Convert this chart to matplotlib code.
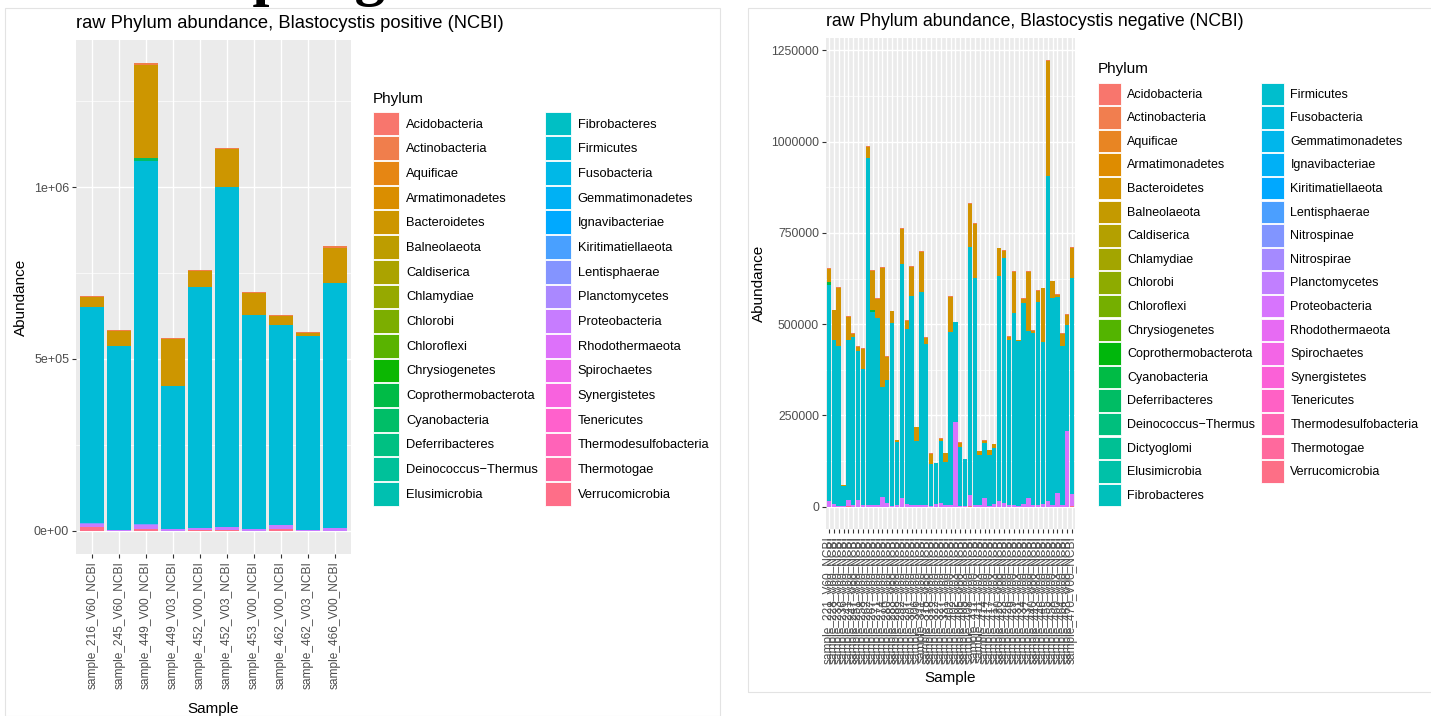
import matplotlib.pyplot as plt
import matplotlib.patches as mpatches
import numpy as np

W, H = 1431, 716

pos_samples = [
    "sample_216_V60_NCBI", "sample_245_V60_NCBI", "sample_449_V00_NCBI",
    "sample_449_V03_NCBI", "sample_452_V00_NCBI", "sample_452_V03_NCBI",
    "sample_453_V00_NCBI", "sample_462_V00_NCBI", "sample_462_V03_NCBI",
    "sample_466_V00_NCBI",
]

neg_samples = [
    "sample_221_V60_NCBI", "sample_228_V60_NCBI", "sample_233_V60_NCBI",
    "sample_236_V60_NCBI", "sample_241_V60_NCBI", "sample_247_V60_NCBI",
    "sample_251_V60_NCBI", "sample_258_V60_NCBI", "sample_262_V60_NCBI",
    "sample_267_V60_NCBI", "sample_271_V60_NCBI", "sample_274_V60_NCBI",
    "sample_280_V60_NCBI", "sample_283_V60_NCBI", "sample_288_V60_NCBI",
    "sample_292_V60_NCBI", "sample_297_V60_NCBI", "sample_301_V60_NCBI",
    "sample_306_V60_NCBI", "sample_311_V60_NCBI", "sample_315_V60_NCBI",
    "sample_318_V60_NCBI", "sample_322_V60_NCBI", "sample_327_V60_NCBI",
    "sample_331_V60_NCBI", "sample_402_V00_NCBI", "sample_402_V03_NCBI",
    "sample_405_V00_NCBI", "sample_405_V03_NCBI", "sample_408_V00_NCBI",
    "sample_411_V00_NCBI", "sample_411_V03_NCBI", "sample_414_V00_NCBI",
    "sample_417_V00_NCBI", "sample_417_V03_NCBI", "sample_420_V00_NCBI",
    "sample_423_V00_NCBI", "sample_426_V00_NCBI", "sample_429_V00_NCBI",
    "sample_431_V03_NCBI", "sample_434_V00_NCBI", "sample_437_V00_NCBI",
    "sample_440_V00_NCBI", "sample_443_V03_NCBI", "sample_446_V00_NCBI",
    "sample_455_V00_NCBI", "sample_458_V00_NCBI", "sample_460_V03_NCBI",
    "sample_464_V00_NCBI", "sample_468_V00_NCBI", "sample_470_V00_NCBI",
]

pos_phyla = [
    "Acidobacteria", "Actinobacteria", "Aquificae", "Armatimonadetes",
    "Bacteroidetes", "Balneolaeota", "Caldiserica", "Chlamydiae", "Chlorobi",
    "Chloroflexi", "Chrysiogenetes", "Coprothermobacterota", "Cyanobacteria",
    "Deferribacteres", "Deinococcus\u2212Thermus", "Elusimicrobia",
    "Fibrobacteres", "Firmicutes", "Fusobacteria", "Gemmatimonadetes",
    "Ignavibacteriae", "Kiritimatiellaeota", "Lentisphaerae", "Planctomycetes",
    "Proteobacteria", "Rhodothermaeota", "Spirochaetes", "Synergistetes",
    "Tenericutes", "Thermodesulfobacteria", "Thermotogae", "Verrucomicrobia",
]

neg_phyla = [
    "Acidobacteria", "Actinobacteria", "Aquificae", "Armatimonadetes",
    "Bacteroidetes", "Balneolaeota", "Caldiserica", "Chlamydiae", "Chlorobi",
    "Chloroflexi", "Chrysiogenetes", "Coprothermobacterota", "Cyanobacteria",
    "Deferribacteres", "Deinococcus\u2212Thermus", "Dictyoglomi",
    "Elusimicrobia", "Fibrobacteres", "Firmicutes", "Fusobacteria",
    "Gemmatimonadetes", "Ignavibacteriae", "Kiritimatiellaeota",
    "Lentisphaerae", "Nitrospinae", "Nitrospirae", "Planctomycetes",
    "Proteobacteria", "Rhodothermaeota", "Spirochaetes", "Synergistetes",
    "Tenericutes", "Thermodesulfobacteria", "Thermotogae", "Verrucomicrobia",
]

# Blastocystis positive
pos_firmicutes = [628000, 536000, 1056000, 416000, 702000, 989000, 622000, 584000, 564000, 713000]
pos_bacteroidetes = [29000, 44000, 270000, 138000, 46000, 110000, 65000, 27000, 9000, 102000]
pos_actinobacteria = [3000, 2000, 5000, 3000, 3000, 3000, 2000, 2000, 2000, 5000]
pos_cyanobacteria = [0, 0, 9000, 0, 0, 0, 0, 0, 0, 0]
pos_proteobacteria = [7000, 2000, 12000, 4000, 5000, 8000, 6000, 10000, 3000, 8000]
pos_verrucomicrobia = [12000, 0, 5000, 0, 2000, 3000, 0, 5000, 0, 0]
pos_lentisphaerae = [4000, 0, 3000, 0, 0, 0, 0, 0, 0, 0]

# Blastocystis negative
neg_firmicutes = [
    593000, 452000, 438000, 55000, 439000, 460000, 409000, 371000, 952000, 529000,
    512000, 303000, 337000, 499000, 172000, 641000, 482000, 574000, 177000, 584000,
    443000, 113000, 112000, 170000, 118000, 475000, 274000, 160000, 128000, 680000,
    622000, 138000, 150000, 139000, 152000, 617000, 670000, 451000, 525000, 452000,
    549000, 456000, 470000, 556000, 444000, 891000, 566000, 537000, 437000, 291000,
    592000,
]
neg_bacteroidetes = [
    35000, 80000, 158000, 2000, 62000, 9000, 11000, 57000, 30000, 106000,
    53000, 326000, 64000, 33000, 7000, 96000, 21000, 80000, 37000, 109000,
    15000, 29000, 0, 5000, 24000, 96000, 0, 12000, 0, 118000,
    147000, 10000, 6000, 12000, 11000, 76000, 21000, 10000, 113000, 2000,
    12000, 162000, 7000, 30000, 146000, 314000, 46000, 5000, 32000, 27000,
    83000,
]
neg_actinobacteria = [
    3000, 2000, 2000, 500, 2000, 2000, 2000, 2000, 2000, 2000,
    2000, 2000, 2000, 2000, 1000, 2000, 2000, 2000, 1000, 2000,
    2000, 1000, 1000, 1000, 1000, 2000, 1000, 1000, 1000, 2000,
    2000, 1000, 1000, 1000, 1000, 2000, 2000, 2000, 2000, 1000,
    2000, 2000, 2000, 2000, 2000, 3000, 2000, 2000, 2000, 2000,
    2000,
]
neg_cyanobacteria = [7000, 0, 0, 0, 2000, 0, 0, 0, 0, 6000] + [0] * 41
neg_proteobacteria = [
    15000, 6000, 3000, 2000, 14000, 4000, 18000, 5000, 4000, 5000,
    4000, 26000, 10000, 3000, 4000, 25000, 6000, 4000, 4000, 5000,
    4000, 3000, 8000, 11000, 4000, 4000, 232000, 3000, 2000, 29000,
    5000, 4000, 25000, 3000, 8000, 15000, 10000, 5000, 5000, 3000,
    8000, 25000, 5000, 5000, 8000, 15000, 5000, 38000, 4000, 207000,
    32000,
]
neg_verrucomicrobia = [0, 0, 0, 0, 3000] + [0] * 24 + [3000] + [0] * 20 + [3000]


def hue_pal(n):
    # ggplot2 default discrete palette: hcl(h, c=100, l=65)
    cols = []
    xn, yn, zn = 95.047, 100.0, 108.883
    un = 4 * xn / (xn + 15 * yn + 3 * zn)
    vn = 9 * yn / (xn + 15 * yn + 3 * zn)
    m = np.array([[3.240479, -1.537150, -0.498535],
                  [-0.969256, 1.875992, 0.041556],
                  [0.055648, -0.204043, 1.057311]])
    lum, chroma = 65.0, 100.0
    for h in np.linspace(15, 375, n + 1)[:-1]:
        u = chroma * np.cos(np.deg2rad(h))
        v = chroma * np.sin(np.deg2rad(h))
        y = yn * ((lum + 16) / 116) ** 3
        up = u / (13 * lum) + un
        vp = v / (13 * lum) + vn
        x = 9 * y * up / (4 * vp)
        z = -x / 3 - 5 * y + 3 * y / vp
        rgb = m @ np.array([x, y, z]) / 100
        rgb = np.where(rgb <= 0.0031308, 12.92 * rgb, 1.055 * np.abs(rgb) ** (1 / 2.4) - 0.055)
        cols.append(tuple(np.clip(rgb, 0, 1)))
    return cols


def px_box(x0, y0, x1, y1):
    return [x0 / W, 1 - y1 / H, (x1 - x0) / W, (y1 - y0) / H]


def stacked_bars(ax, samples, phyla, table):
    colors = hue_pal(len(phyla))
    pos = np.arange(1, len(samples) + 1)
    bottom = np.zeros(len(samples))
    # ggplot stacks the first level on top
    for name, col in reversed(list(zip(phyla, colors))):
        if name not in table:
            continue
        vals = np.array(table[name], dtype=float)
        ax.bar(pos, vals, bottom=bottom, width=0.9, color=col, linewidth=0, zorder=3)
        bottom += vals
    ax.set_xlim(0.4, len(samples) + 0.6)
    ax.set_xticks(pos)
    ax.set_xticklabels(samples, rotation=90, fontsize=8.6, color="#4D4D4D")
    return colors


def style_axes(ax, yticks, yminor, ylabels, fs):
    ax.set_facecolor("#EBEBEB")
    for s in ax.spines.values():
        s.set_visible(False)
    ax.set_yticks(yticks)
    ax.set_yticklabels(ylabels, fontsize=fs, color="#4D4D4D")
    ax.set_yticks(yminor, minor=True)
    ax.grid(which="major", color="white", linewidth=1.0, zorder=0)
    ax.grid(which="minor", axis="y", color="white", linewidth=0.5, zorder=0)
    ax.set_axisbelow(True)
    ax.tick_params(which="major", length=3, width=0.8, color="#333333", pad=2)
    ax.tick_params(which="minor", length=0)


def add_legend(ax, phyla, colors, anchor, fs, hl, hh, ls, cs, title_gap):
    handles = [
        mpatches.Patch(facecolor=c, edgecolor="white", linewidth=0.6, label=p)
        for p, c in zip(phyla, colors)
    ]
    leg = ax.legend(
        handles=handles, ncol=2, frameon=False, loc="upper left",
        bbox_to_anchor=(anchor[0] / W, 1 - anchor[1] / H),
        bbox_transform=plt.gcf().transFigure,
        title="Phylum", title_fontsize=11, fontsize=fs,
        handlelength=hl, handleheight=hh, labelspacing=ls,
        handletextpad=0.55, columnspacing=cs, borderpad=0, borderaxespad=0,
        alignment="left",
    )
    # a bit more room between the title and the keys, as in ggplot
    leg._legend_box.sep = title_gap
    return leg


plt.rcParams["font.family"] = ["Liberation Sans", "DejaVu Sans"]
fig = plt.figure(figsize=(W / 100, H / 100), dpi=100)

# panel frames from the screenshot
fig.add_artist(mpatches.Rectangle((5 / W, 0), 715 / W, 1 - 8 / H, transform=fig.transFigure,
                                  fill=False, edgecolor="#E3E3E3", linewidth=0.8))
fig.add_artist(mpatches.Rectangle((748 / W, 1 - 692 / H), 690 / W, 684 / H, transform=fig.transFigure,
                                  fill=False, edgecolor="#E3E3E3", linewidth=0.8))
# page heading cut off by the top edge: only its lower part shows
fig.text(386 / W, 1 + 6 / H, "Sampling", ha="right", va="baseline",
         family="Liberation Serif", fontweight="bold", fontsize=44)

# ---------- positive
ax1 = fig.add_axes(px_box(76, 40, 351, 554))
pos_table = {
    "Firmicutes": pos_firmicutes,
    "Bacteroidetes": pos_bacteroidetes,
    "Actinobacteria": pos_actinobacteria,
    "Cyanobacteria": pos_cyanobacteria,
    "Proteobacteria": pos_proteobacteria,
    "Verrucomicrobia": pos_verrucomicrobia,
    "Lentisphaerae": pos_lentisphaerae,
}
cols1 = stacked_bars(ax1, pos_samples, pos_phyla, pos_table)
style_axes(ax1, [0, 5e5, 1e6], [2.5e5, 7.5e5, 1.25e6], ["0e+00", "5e+05", "1e+06"], 9)
ax1.set_ylim(-68000, 1428000)
ax1.set_title("raw Phylum abundance, Blastocystis positive (NCBI)", loc="left",
              fontsize=13.2, pad=8.6)
ax1.set_xlabel("Sample", fontsize=11)
ax1.set_ylabel("Abundance", fontsize=11)
ax1.xaxis.set_label_coords(0.5, -0.288)
ax1.yaxis.set_label_coords(-0.175, 0.5)
add_legend(ax1, pos_phyla, cols1, (373, 92), 9.3, 2.0, 2.45, 0.074, 0.55, 4.1)

# ---------- negative
ax2 = fig.add_axes(px_box(826, 38, 1075, 529))
neg_table = {
    "Firmicutes": neg_firmicutes,
    "Bacteroidetes": neg_bacteroidetes,
    "Actinobacteria": neg_actinobacteria,
    "Cyanobacteria": neg_cyanobacteria,
    "Proteobacteria": neg_proteobacteria,
    "Verrucomicrobia": neg_verrucomicrobia,
}
cols2 = stacked_bars(ax2, neg_samples, neg_phyla, neg_table)
style_axes(ax2, [0, 250000, 500000, 750000, 1000000, 1250000],
           [125000, 375000, 625000, 875000, 1125000],
           ["0", "250000", "500000", "750000", "1000000", "1250000"], 8.8)
ax2.set_ylim(-61150, 1284150)
ax2.set_title("raw Phylum abundance, Blastocystis negative (NCBI)", loc="left",
              fontsize=12.7, pad=9)
ax2.set_xlabel("Sample", fontsize=11)
ax2.set_ylabel("Abundance", fontsize=11)
ax2.xaxis.set_label_coords(0.5, -0.29)
ax2.yaxis.set_label_coords(-0.24, 0.5)
add_legend(ax2, neg_phyla, cols2, (1098, 62), 9.0, 1.8, 2.39, 0.09, 0.45, 4.7)

fig.savefig("out.png", dpi=100)
